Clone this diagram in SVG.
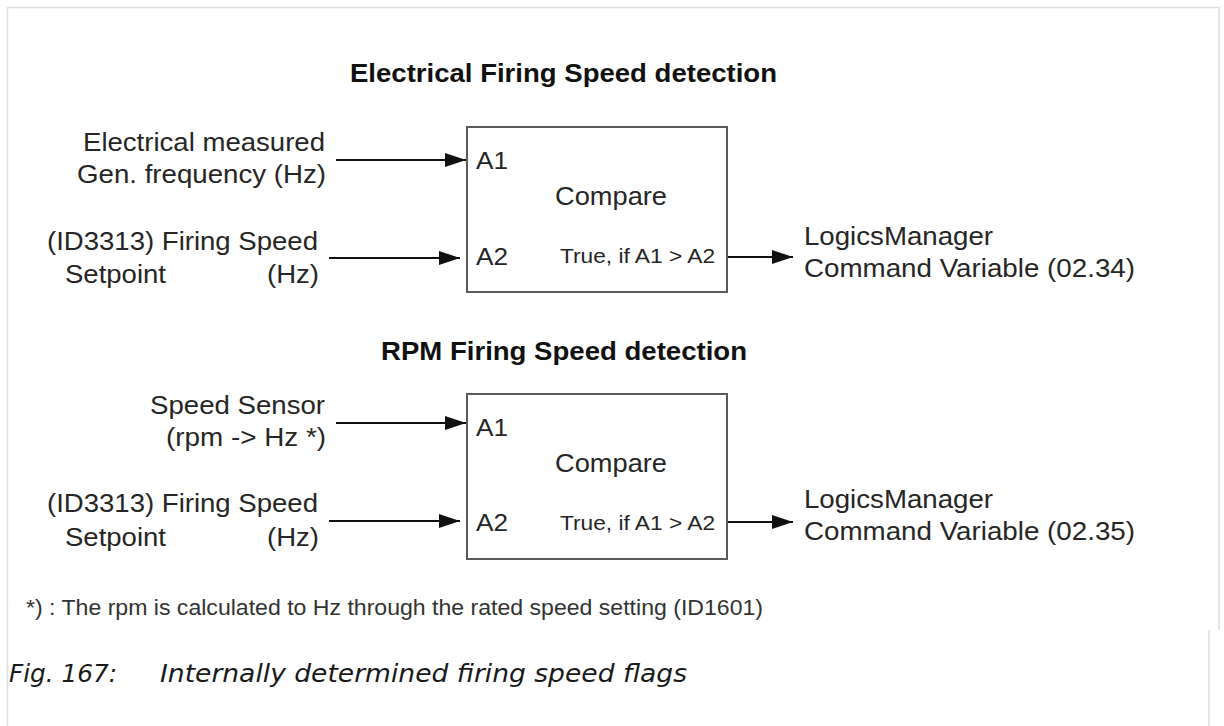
<svg xmlns="http://www.w3.org/2000/svg" width="1224" height="726" viewBox="0 0 1224 726">
  <style>
    .t { font-family: "Liberation Sans", Arial, sans-serif; fill: #262626; font-size: 26px; }
    .ttl { font-family: "Liberation Sans", Arial, sans-serif; fill: #111; font-size: 26.5px; font-weight: bold; }
    .pin { font-family: "Liberation Sans", Arial, sans-serif; fill: #262626; font-size: 24px; }
    .cond { font-family: "Liberation Sans", Arial, sans-serif; fill: #262626; font-size: 21px; }
    .foot { font-family: "Liberation Sans", Arial, sans-serif; fill: #333; font-size: 21.5px; }
    .cap { font-family: "DejaVu Sans", sans-serif; font-style: italic; fill: #1a1a1a; font-size: 24px; }
    .box { fill: #fff; stroke: #5a5a5a; stroke-width: 2; }
    .frame { fill: none; stroke: #dedede; stroke-width: 1.5; }
    .conn line { stroke: #111; stroke-width: 2; marker-end: url(#arr); }
  </style>
  <defs>
    <marker id="arr" markerUnits="userSpaceOnUse" markerWidth="22" markerHeight="14" refX="21" refY="7" orient="auto">
      <path d="M0,0 L21,7 L0,14 Z" fill="#111"/>
    </marker>
  </defs>
  <rect width="1224" height="726" fill="#fff"/>
  <g id="frame">
    <path class="frame" d="M7.5,726 V7.5 H1219 V630"/>
    <line class="frame" x1="1209" y1="630" x2="1209" y2="726"/>
  </g>

  <g id="section1">
    <text class="ttl" x="350" y="82" textLength="427" lengthAdjust="spacingAndGlyphs">Electrical Firing Speed detection</text>
    <g id="in1a">
      <text class="t" x="83" y="151" textLength="242" lengthAdjust="spacingAndGlyphs">Electrical measured</text>
      <text class="t" x="77" y="183" textLength="249" lengthAdjust="spacingAndGlyphs">Gen. frequency (Hz)</text>
    </g>
    <g id="in1b">
      <text class="t" x="47" y="250" textLength="271" lengthAdjust="spacingAndGlyphs">(ID3313) Firing Speed</text>
      <text class="t" x="65" y="283" textLength="101" lengthAdjust="spacingAndGlyphs">Setpoint</text>
      <text class="t" x="267" y="283" textLength="52" lengthAdjust="spacingAndGlyphs">(Hz)</text>
    </g>
    <g id="cmp1">
      <rect class="box" x="467" y="127" width="260" height="165"/>
      <text class="pin" x="476" y="169" textLength="32" lengthAdjust="spacingAndGlyphs">A1</text>
      <text class="pin" x="476" y="265" textLength="32" lengthAdjust="spacingAndGlyphs">A2</text>
      <text class="t" x="555" y="205" textLength="112" lengthAdjust="spacingAndGlyphs">Compare</text>
      <text class="cond" x="560" y="263" textLength="155" lengthAdjust="spacingAndGlyphs">True, if A1 &gt; A2</text>
    </g>
    <g id="out1">
      <text class="t" x="804" y="245" textLength="189" lengthAdjust="spacingAndGlyphs">LogicsManager</text>
      <text class="t" x="804" y="277" textLength="331" lengthAdjust="spacingAndGlyphs">Command Variable (02.34)</text>
    </g>
  </g>

  <g id="section2">
    <text class="ttl" x="381" y="360" textLength="366" lengthAdjust="spacingAndGlyphs">RPM Firing Speed detection</text>
    <g id="in2a">
      <text class="t" x="150" y="414" textLength="175" lengthAdjust="spacingAndGlyphs">Speed Sensor</text>
      <text class="t" x="166" y="446" textLength="160" lengthAdjust="spacingAndGlyphs">(rpm -&gt; Hz *)</text>
    </g>
    <g id="in2b">
      <text class="t" x="47" y="512" textLength="271" lengthAdjust="spacingAndGlyphs">(ID3313) Firing Speed</text>
      <text class="t" x="65" y="546" textLength="101" lengthAdjust="spacingAndGlyphs">Setpoint</text>
      <text class="t" x="267" y="546" textLength="52" lengthAdjust="spacingAndGlyphs">(Hz)</text>
    </g>
    <g id="cmp2">
      <rect class="box" x="467" y="394" width="260" height="165"/>
      <text class="pin" x="476" y="436" textLength="32" lengthAdjust="spacingAndGlyphs">A1</text>
      <text class="pin" x="476" y="531" textLength="32" lengthAdjust="spacingAndGlyphs">A2</text>
      <text class="t" x="555" y="472" textLength="112" lengthAdjust="spacingAndGlyphs">Compare</text>
      <text class="cond" x="560" y="530" textLength="155" lengthAdjust="spacingAndGlyphs">True, if A1 &gt; A2</text>
    </g>
    <g id="out2">
      <text class="t" x="804" y="508" textLength="189" lengthAdjust="spacingAndGlyphs">LogicsManager</text>
      <text class="t" x="804" y="540" textLength="331" lengthAdjust="spacingAndGlyphs">Command Variable (02.35)</text>
    </g>
  </g>

  <g id="connectors" class="conn">
    <line x1="336" y1="160" x2="466" y2="160"/>
    <line x1="329" y1="258" x2="460" y2="258"/>
    <line x1="728" y1="257" x2="793" y2="257"/>
    <line x1="336" y1="423" x2="466" y2="423"/>
    <line x1="329" y1="521" x2="460" y2="521"/>
    <line x1="728" y1="522" x2="793" y2="522"/>
  </g>

  <g id="notes">
    <text class="foot" x="26" y="615" textLength="737" lengthAdjust="spacingAndGlyphs">*) : The rpm is calculated to Hz through the rated speed setting (ID1601)</text>
    <text class="cap" x="9" y="682" textLength="108" lengthAdjust="spacingAndGlyphs">Fig. 167:</text>
    <text class="cap" x="160" y="682" textLength="527" lengthAdjust="spacingAndGlyphs">Internally determined firing speed flags</text>
  </g>
</svg>
